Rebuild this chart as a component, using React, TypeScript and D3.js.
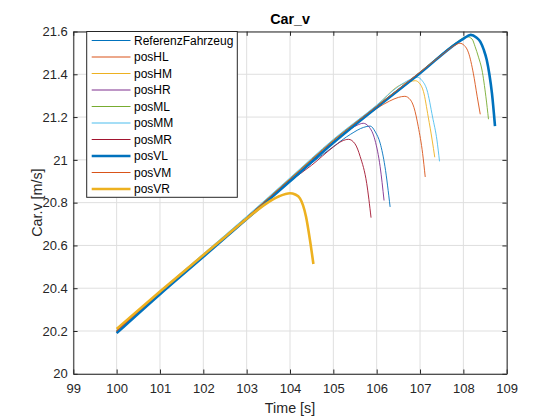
import React, { useEffect, useRef } from 'react';
import * as d3 from 'd3';

// values (time in s, velocity in m/s)
const refTime = [100, 101, 102, 103, 104, 104.5, 105, 105.4, 105.7, 105.85, 105.97, 106.08, 106.19, 106.31];
const refV = [20.2, 20.38, 20.555, 20.73, 20.905, 20.985, 21.062, 21.12, 21.152, 21.158, 21.13, 21.078, 20.97, 20.78];

const hlTime = [100, 101, 102, 103, 104, 105, 105.5, 106, 106.3, 106.5, 106.65, 106.78, 106.86, 106.96, 107.06, 107.12];
const hlV = [20.2, 20.38, 20.555, 20.73, 20.91, 21.085, 21.165, 21.24, 21.275, 21.292, 21.297, 21.28, 21.245, 21.155, 21.03, 20.92];

const hmTime = [100, 101, 102, 103, 104, 105, 106, 106.5, 106.75, 106.89, 107.0, 107.08, 107.19, 107.28, 107.34];
const hmV = [20.202, 20.382, 20.557, 20.732, 20.912, 21.092, 21.252, 21.345, 21.365, 21.37, 21.355, 21.319, 21.2, 21.093, 21.012];

const hrTime = [100, 101, 102, 103, 104, 104.5, 105, 105.3, 105.55, 105.69, 105.82, 105.96, 106.08, 106.17];
const hrV = [20.2, 20.38, 20.555, 20.73, 20.905, 20.99, 21.078, 21.13, 21.162, 21.171, 21.155, 21.093, 20.968, 20.81];

const mlTime = [100, 101, 102, 103, 104, 105, 106, 107, 107.5, 107.85, 108.08, 108.2, 108.27, 108.35, 108.43, 108.52, 108.58];
const mlV = [20.202, 20.382, 20.557, 20.732, 20.912, 21.092, 21.252, 21.41, 21.495, 21.55, 21.576, 21.565, 21.53, 21.48, 21.42, 21.295, 21.19];

const mmTime = [100, 101, 102, 103, 104, 105, 106, 106.5, 106.8, 106.94, 107.05, 107.16, 107.29, 107.39, 107.45];
const mmV = [20.206, 20.386, 20.561, 20.736, 20.916, 21.096, 21.256, 21.343, 21.378, 21.386, 21.37, 21.327, 21.2, 21.093, 20.993];

const mrTime = [100, 101, 102, 103, 104, 104.5, 105, 105.2, 105.35, 105.5, 105.62, 105.77, 105.87];
const mrV = [20.2, 20.38, 20.555, 20.73, 20.9, 20.975, 21.06, 21.088, 21.096, 21.075, 21.015, 20.89, 20.73];

const vlTime = [100, 101, 102, 103, 104, 105, 106, 107, 108, 108.17, 108.3, 108.39, 108.47, 108.54, 108.6, 108.66, 108.73];
const vlV = [20.19, 20.372, 20.547, 20.723, 20.9, 21.08, 21.245, 21.405, 21.566, 21.584, 21.572, 21.553, 21.515, 21.467, 21.4, 21.311, 21.158];

const vmTime = [100, 101, 102, 103, 104, 105, 106, 107, 107.5, 107.8, 107.92, 108.02, 108.12, 108.23, 108.32, 108.39];
const vmV = [20.2, 20.38, 20.555, 20.73, 20.91, 21.09, 21.25, 21.41, 21.49, 21.535, 21.545, 21.535, 21.5, 21.405, 21.295, 21.213];

const vrTime = [100, 101, 102, 102.5, 103, 103.46, 103.75, 104.0, 104.12, 104.23, 104.37, 104.46, 104.54];
const vrV = [20.21, 20.385, 20.555, 20.64, 20.725, 20.797, 20.83, 20.844, 20.838, 20.82, 20.734, 20.626, 20.513];

const seriesNames = ['ReferenzFahrzeug', 'posHL', 'posHM', 'posHR', 'posML', 'posMM', 'posMR', 'posVL', 'posVM', 'posVR'];
const seriesTimes = [refTime, hlTime, hmTime, hrTime, mlTime, mmTime, mrTime, vlTime, vmTime, vrTime];
const seriesValues = [refV, hlV, hmV, hrV, mlV, mmV, mrV, vlV, vmV, vrV];
const seriesColors = ['#0072BD', '#D95319', '#EDB120', '#7E2F8E', '#77AC30', '#4DBEEE', '#A2142F', '#0072BD', '#D95319', '#EDB120'];
const seriesWidths = [0.9, 0.9, 0.9, 0.9, 0.9, 0.9, 0.9, 2.6, 0.9, 2.6];

const xTicks = [99, 100, 101, 102, 103, 104, 105, 106, 107, 108, 109];
const yTicks = [20, 20.2, 20.4, 20.6, 20.8, 21, 21.2, 21.4, 21.6];
const yTickLabels = ['20', '20.2', '20.4', '20.6', '20.8', '21', '21.2', '21.4', '21.6'];

const FONT = '"Liberation Sans", Arial, Helvetica, sans-serif';
const AXC = '#262626';

const App: React.FC = () => {
    const ref = useRef<SVGSVGElement | null>(null);

    useEffect(() => {
        if (!ref.current) return;
        const svg = d3.select(ref.current);
        svg.selectAll('*').remove();

        const width = 560;
        const height = 420;
        const margin = { top: 31.5, right: 53.3, bottom: 46.2, left: 73.3 };
        const innerW = width - margin.left - margin.right;
        const innerH = height - margin.top - margin.bottom;

        const x = d3.scaleLinear().domain([99, 109]).range([0, innerW]);
        const y = d3.scaleLinear().domain([20, 21.6]).range([innerH, 0]);

        svg.append('rect').attr('width', width).attr('height', height).attr('fill', '#ffffff');

        const g = svg.append('g').attr('transform', `translate(${margin.left},${margin.top})`);

        // grid
        g.append('g')
            .selectAll('line')
            .data(xTicks)
            .enter()
            .append('line')
            .attr('x1', (d) => x(d))
            .attr('x2', (d) => x(d))
            .attr('y1', 0)
            .attr('y2', innerH)
            .attr('stroke', '#dfdfdf')
            .attr('stroke-width', 1);
        g.append('g')
            .selectAll('line')
            .data(yTicks)
            .enter()
            .append('line')
            .attr('x1', 0)
            .attr('x2', innerW)
            .attr('y1', (d) => y(d))
            .attr('y2', (d) => y(d))
            .attr('stroke', '#dfdfdf')
            .attr('stroke-width', 1);

        // lines
        const line = d3
            .line<[number, number]>()
            .x((d) => x(d[0]))
            .y((d) => y(d[1]))
            .curve(d3.curveMonotoneX);

        seriesNames.forEach((name, i) => {
            const pts: [number, number][] = seriesTimes[i].map((t, j) => [t, seriesValues[i][j]]);
            g.append('path')
                .datum(pts)
                .attr('d', line)
                .attr('fill', 'none')
                .attr('stroke', seriesColors[i])
                .attr('stroke-width', seriesWidths[i])
                .attr('stroke-linejoin', 'round');
        });

        // axes
        const styleAxis = (sel: d3.Selection<SVGGElement, unknown, null, undefined>) => {
            sel.selectAll('path').attr('stroke', AXC).attr('stroke-width', 1);
            sel.selectAll('line').attr('stroke', AXC).attr('stroke-width', 1);
            sel.selectAll('text').attr('fill', AXC).style('font-family', FONT).style('font-size', '13px');
        };

        const xAxis = d3.axisBottom(x).tickValues(xTicks).tickFormat(d3.format('d')).tickSizeInner(-4.3).tickSizeOuter(0).tickPadding(10);
        const xTop = d3.axisTop(x).tickValues(xTicks).tickFormat(() => '').tickSizeInner(-4.3).tickSizeOuter(0);
        const yAxis = d3
            .axisLeft(y)
            .tickValues(yTicks)
            .tickFormat((d, i) => yTickLabels[i])
            .tickSizeInner(-4.3)
            .tickSizeOuter(0)
            .tickPadding(5.5);
        const yRight = d3.axisRight(y).tickValues(yTicks).tickFormat(() => '').tickSizeInner(-4.3).tickSizeOuter(0);

        g.append('g').attr('transform', `translate(0,${innerH})`).call(xAxis).call(styleAxis);
        g.append('g').call(xTop).call(styleAxis);
        g.append('g').call(yAxis).call(styleAxis);
        g.append('g').attr('transform', `translate(${innerW},0)`).call(yRight).call(styleAxis);
        svg.selectAll('.domain').attr('fill', 'none');

        // labels
        svg.append('text')
            .attr('x', margin.left + innerW / 2)
            .attr('y', 24)
            .attr('text-anchor', 'middle')
            .style('font-family', FONT)
            .style('font-size', '14.3px')
            .style('font-weight', 'bold')
            .attr('fill', '#000')
            .text('Car_v');
        svg.append('text')
            .attr('x', margin.left + innerW / 2)
            .attr('y', 412.5)
            .attr('text-anchor', 'middle')
            .style('font-family', FONT)
            .style('font-size', '14.3px')
            .attr('fill', AXC)
            .text('Time [s]');
        svg.append('text')
            .attr('transform', `translate(41.5,${margin.top + innerH / 2}) rotate(-90)`)
            .attr('text-anchor', 'middle')
            .style('font-family', FONT)
            .style('font-size', '14.3px')
            .attr('fill', AXC)
            .text('Car.v [m/s]');

        // legend
        const lg = svg.append('g').attr('transform', `translate(${86.7},${margin.top})`);
        lg.append('rect')
            .attr('width', 150.6)
            .attr('height', 165.8)
            .attr('fill', '#fff')
            .attr('stroke', AXC)
            .attr('stroke-width', 1);
        seriesNames.forEach((name, i) => {
            const ry = 9 + i * 16.5;
            lg.append('line')
                .attr('x1', 5)
                .attr('x2', 43.8)
                .attr('y1', ry)
                .attr('y2', ry)
                .attr('stroke', seriesColors[i])
                .attr('stroke-width', seriesWidths[i] > 1 ? 2.6 : 1.2);
            lg.append('text')
                .attr('x', 47.3)
                .attr('y', ry)
                .attr('dy', '0.36em')
                .style('font-family', FONT)
                .style('font-size', '12px')
                .attr('fill', '#000')
                .text(name);
        });
    }, []);

    return <svg ref={ref} width={560} height={420} style={{ position: 'absolute', left: 0, top: 0 }} />;
};

export default App;
